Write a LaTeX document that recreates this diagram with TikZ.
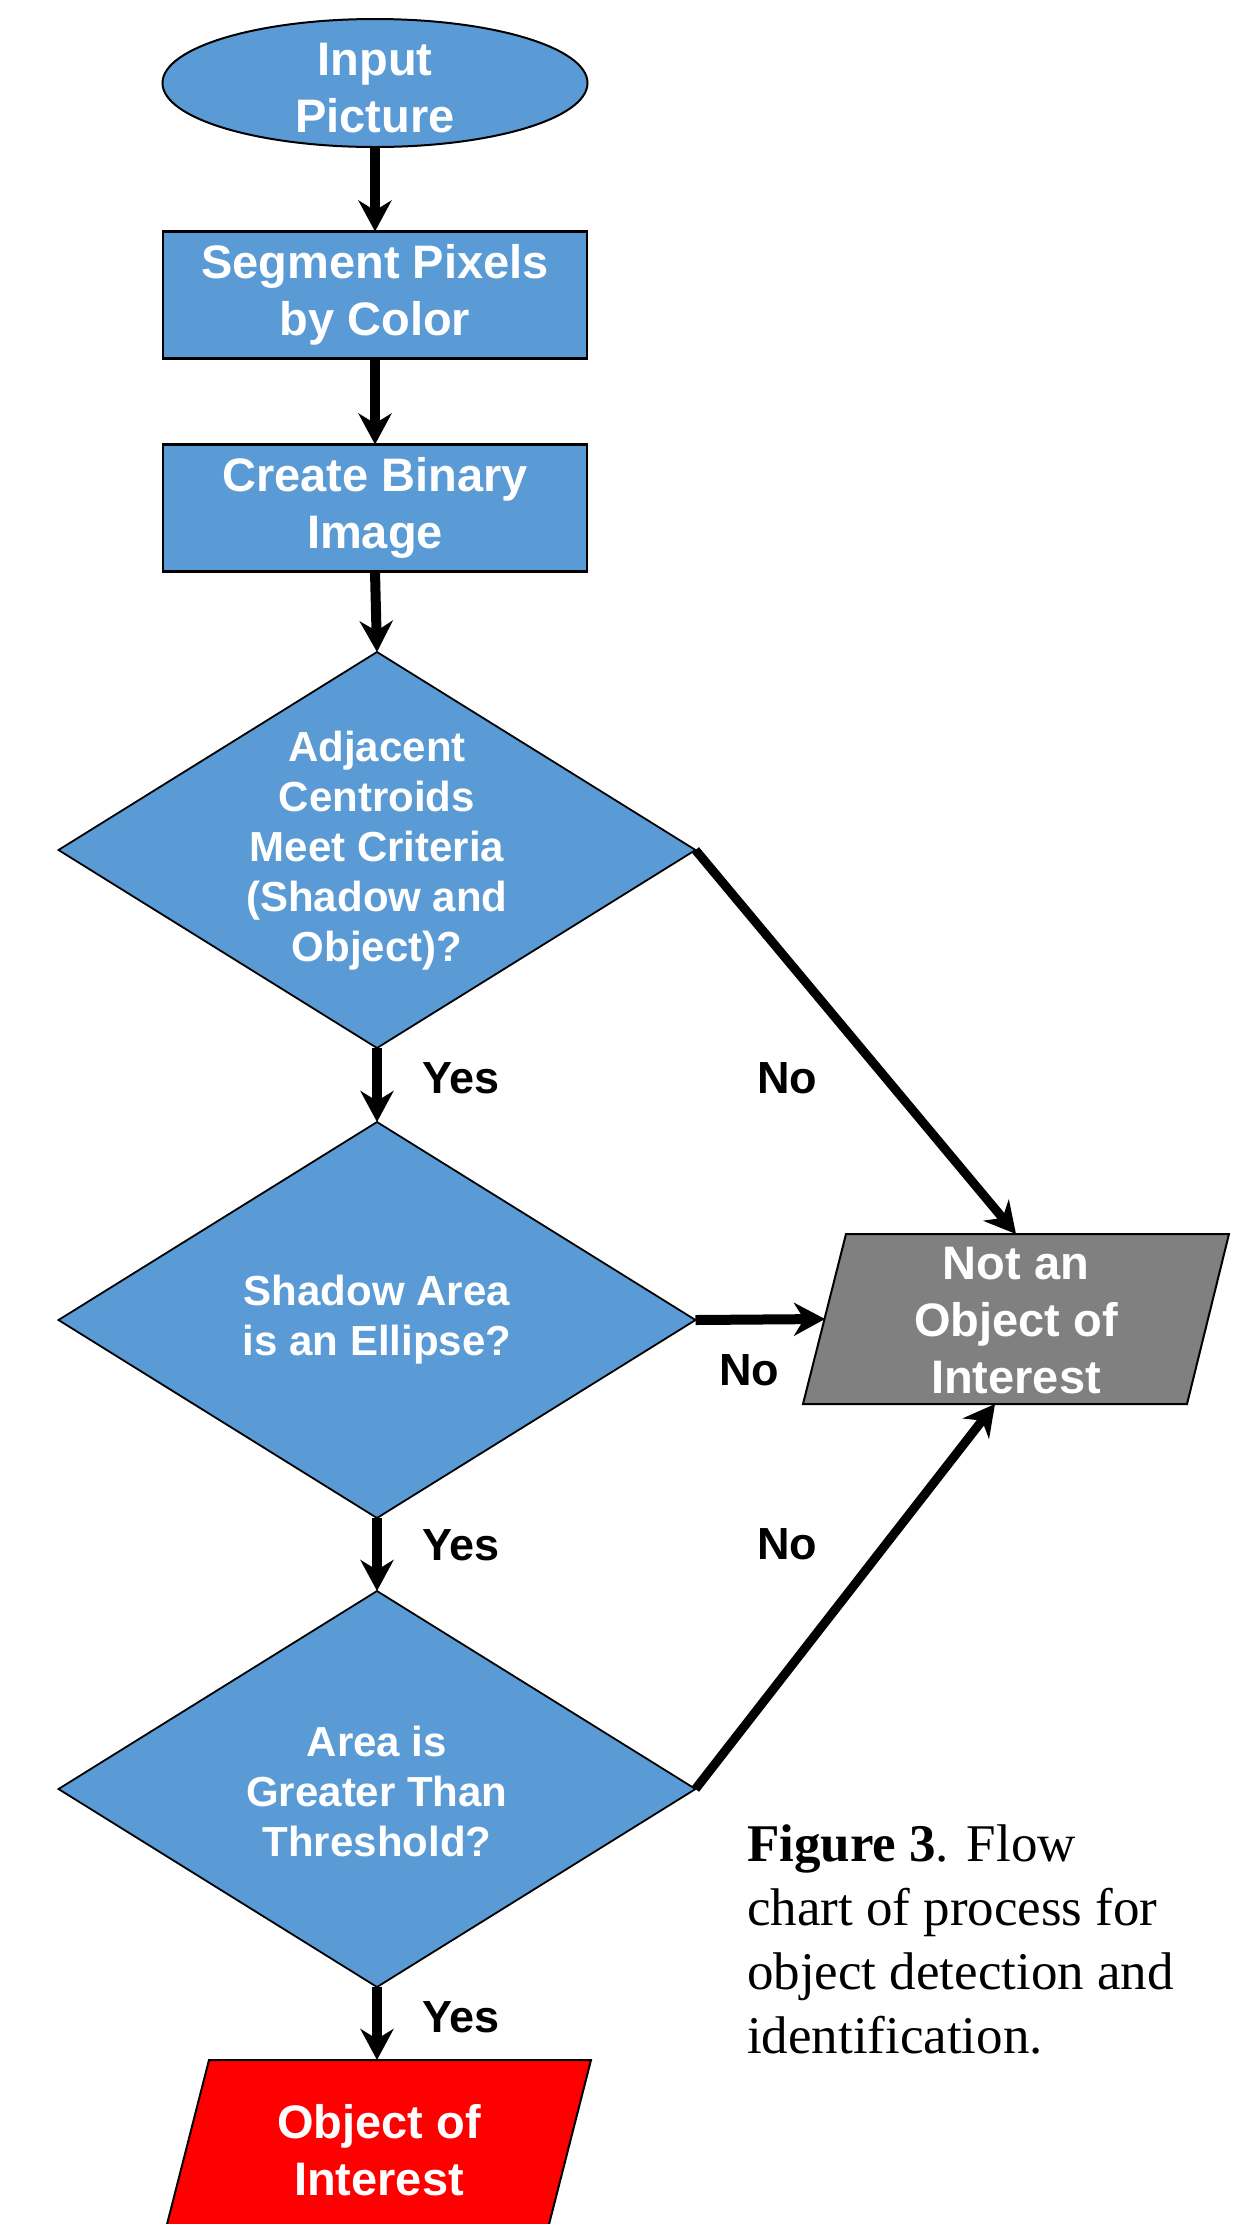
\documentclass[tikz,border=0pt]{standalone}
\usepackage{fontspec}
\setmainfont{Liberation Serif}
\newfontfamily\arialf{Liberation Sans}
\usetikzlibrary{arrows.meta,shapes.geometric}
\definecolor{boxblue}{RGB}{91,155,213}
\definecolor{boxgray}{RGB}{128,128,128}
\definecolor{boxred}{RGB}{255,0,0}
\begin{document}
\begin{tikzpicture}[x=0.5pt,y=-0.5pt,
  every node/.style={inner sep=0pt,outer sep=0pt},
  startshape/.style={ellipse,draw=black,line width=1pt,fill=boxblue,minimum width=212.5pt,minimum height=64pt},
  procbox/.style={rectangle,draw=black,line width=1.2pt,fill=boxblue,minimum width=212pt,minimum height=63.5pt},
  decision/.style={diamond,draw=black,line width=0.9pt,fill=boxblue,minimum width=318.5pt,minimum height=198pt},
  iobox/.style={draw=black,line width=1pt},
  wtext/.style={text=white,font=\arialf\bfseries\fontsize{23.5}{28.5}\selectfont,align=center},
  dtext/.style={text=white,font=\arialf\bfseries\fontsize{21}{25}\selectfont,align=center},
  lbl/.style={text=black,font=\arialf\bfseries\fontsize{22.5}{27}\selectfont},
  arr/.style={line width=5pt,-{Stealth[length=15.5pt,width=16.5pt,inset=5pt]}},
  darr/.style={line width=4.5pt,-{Stealth[length=15.5pt,width=16.5pt,inset=5pt]}}
]
\useasboundingbox (0,0) rectangle (1234,2224);
\fill[white] (0,0) rectangle (1234,2224);

% shapes
\node[startshape] (inp) at (375,83) {};
\node[wtext] (inptext) at (375,88) {Input\\Picture};
\node[procbox,wtext] (seg) at (375,295) {Segment Pixels\\by Color};
\node[procbox,wtext] (bin) at (375,508) {Create Binary\\Image};
\node[decision] (d1) at (377,850) {};
\node[dtext] (d1text) at (377,851) {Adjacent\\Centroids\\Meet Criteria\\(Shadow and\\Object)?};
\node[decision] (d2) at (377,1320) {};
\node[dtext] (d2text) at (377,1320) {Shadow Area\\is an Ellipse?};
\node[decision] (d3) at (377,1789) {};
\node[dtext] (d3text) at (377,1791) {Area is\\Greater Than\\Threshold?};

% Not an object of interest
\path[iobox,fill=boxgray] (846,1234) -- (1229,1234) -- (1187,1404) -- (803,1404) -- cycle;
\node[wtext] (nobj) at (1016,1321) {Not an\\Object of\\Interest};
\coordinate (nobjT) at (1016,1234);
\coordinate (nobjL) at (825,1319);
\coordinate (nobjB) at (995,1404);

% Object of interest
\path[iobox,fill=boxred] (209,2060) -- (591,2060) -- (545,2240) -- (163,2240) -- cycle;
\node[wtext] (obj) at (379,2150) {Object of\\Interest};
\coordinate (objT) at (377,2060);

% connectors
\draw[arr] (inp.south) -- (seg.north);
\draw[arr] (seg.south) -- (bin.north);
\draw[arr] (bin.south) -- (d1.north);
\draw[arr] (d1.south) -- (d2.north);
\draw[arr] (d2.south) -- (d3.north);
\draw[arr] (d3.south) -- (objT);
\draw[darr] (d1.east) -- (nobjT);
\draw[arr] (d2.east) -- (nobjL);
\draw[darr] (d3.east) -- (nobjB);

% labels
\node[lbl] (y1) at (461,1078) {Yes};
\node[lbl] (y2) at (461,1545) {Yes};
\node[lbl] (y3) at (461,2017) {Yes};
\node[lbl] (n1) at (787,1078) {No};
\node[lbl] (n2) at (749,1370) {No};
\node[lbl] (n3) at (787,1544) {No};

% caption
\node[anchor=base west,align=left,font=\fontsize{26.5}{32}\selectfont] (cap) at (747,2053)
  {\textbf{Figure 3}. Flow\\chart of process for\\object detection and\\identification.};
\end{tikzpicture}
\end{document}
